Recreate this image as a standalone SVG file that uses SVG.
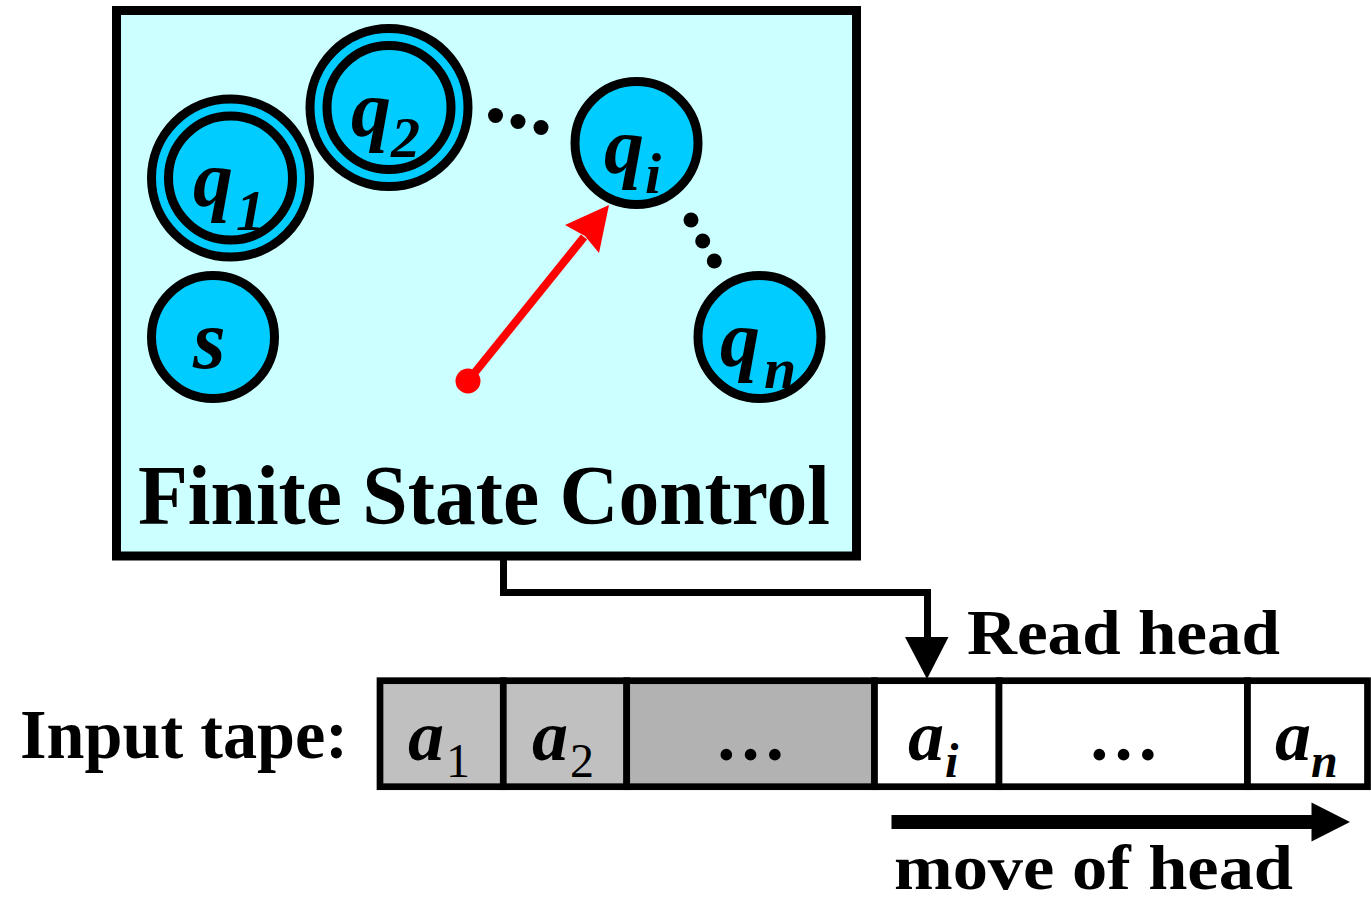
<svg xmlns="http://www.w3.org/2000/svg" width="1371" height="904" viewBox="0 0 1371 904">
<style>
.st{fill:#00CCFF;stroke:#000;stroke-width:9}
.lbl{font-family:"Liberation Serif","Times New Roman",serif;font-weight:bold;font-style:italic;fill:#000}
.sub{font-family:"Liberation Serif","Times New Roman",serif;font-weight:bold;font-style:italic;fill:#000;font-size:58px}
.txt{font-family:"Liberation Serif","Times New Roman",serif;font-weight:bold;fill:#000}
.cell{stroke:#000;stroke-width:6.7}
.ta{font-family:"Liberation Serif","Times New Roman",serif;font-weight:bold;font-style:italic;font-size:72px;fill:#000}
.tsr{font-family:"Liberation Serif","Times New Roman",serif;font-size:48px;fill:#000}
.tsi{font-family:"Liberation Serif","Times New Roman",serif;font-weight:bold;font-style:italic;font-size:48px;fill:#000}
.dot{fill:#000}
</style>
<g id="fsc">
<rect x="116.5" y="10.5" width="740" height="545.5" fill="#CCFFFF" stroke="#000" stroke-width="9"/>
<text class="txt" x="138" y="524" font-size="84" textLength="692" lengthAdjust="spacingAndGlyphs">Finite State Control</text>
</g>
<g id="state-q1">
<circle class="st" cx="230.5" cy="178" r="79"/>
<circle class="st" cx="230.5" cy="178" r="62"/>
<text class="lbl" x="193" y="206" font-size="80">q</text>
<text class="sub" x="236" y="230">1</text>
</g>
<g id="state-q2">
<circle class="st" cx="389" cy="107.5" r="79"/>
<circle class="st" cx="389" cy="107.5" r="62"/>
<text class="lbl" x="351" y="136" font-size="80">q</text>
<text class="sub" x="391" y="157">2</text>
</g>
<g id="state-qi">
<circle class="st" cx="636.5" cy="143" r="61.5"/>
<text class="lbl" x="604" y="173" font-size="80">q</text>
<text class="sub" x="645" y="193">i</text>
</g>
<g id="state-qn">
<circle class="st" cx="759.5" cy="337" r="61.5"/>
<text class="lbl" x="720" y="366" font-size="80">q</text>
<text class="sub" x="764" y="388">n</text>
</g>
<g id="state-s">
<circle class="st" cx="213" cy="337" r="61.5"/>
<text class="lbl" x="193" y="368" font-size="84">s</text>
</g>
<g id="ellipsis-dots">
<circle class="dot" cx="495.5" cy="115.5" r="7.5"/>
<circle class="dot" cx="518" cy="121.5" r="7.5"/>
<circle class="dot" cx="541" cy="127.5" r="7.5"/>
<circle class="dot" cx="691" cy="220" r="7.5"/>
<circle class="dot" cx="702.7" cy="241" r="7.5"/>
<circle class="dot" cx="714.3" cy="261" r="7.5"/>
</g>
<g id="tape">
<rect class="cell" x="380" y="680.7" width="123.3" height="106" fill="#C0C0C0"/>
<rect class="cell" x="503.3" y="680.7" width="123.4" height="106" fill="#C0C0C0"/>
<rect class="cell" x="626.7" y="680.7" width="247.8" height="106" fill="#B2B2B2"/>
<rect class="cell" x="874.5" y="680.7" width="124.5" height="106" fill="#FFFFFF"/>
<rect class="cell" x="999" y="680.7" width="248.5" height="106" fill="#FFFFFF"/>
<rect class="cell" x="1247.5" y="680.7" width="120" height="106" fill="#FFFFFF"/>
<text class="ta" x="408" y="760">a</text><text class="tsr" x="446" y="777">1</text>
<text class="ta" x="532" y="760">a</text><text class="tsr" x="570" y="777">2</text>
<text class="txt" x="750.5" y="760" font-size="72" text-anchor="middle">…</text>
<text class="ta" x="908" y="760">a</text><text class="tsi" x="945" y="777">i</text>
<text class="txt" x="1123.5" y="760" font-size="72" text-anchor="middle">…</text>
<text class="ta" x="1275" y="760">a</text><text class="tsi" x="1311" y="777">n</text>
</g>
<g id="labels">
<text class="txt" x="20" y="758" font-size="69" textLength="328" lengthAdjust="spacingAndGlyphs">Input tape:</text>
<text class="txt" x="967" y="654" font-size="64" textLength="313" lengthAdjust="spacingAndGlyphs">Read head</text>
<text class="txt" x="894" y="889" font-size="64" textLength="399" lengthAdjust="spacingAndGlyphs">move of head</text>
</g>
<g id="connectors">
<path d="M503.5 556 V592.5 H927.5 V640" fill="none" stroke="#000" stroke-width="7"/>
<polygon points="905,637 948.5,637 927,679" fill="#000"/>
<line x1="468" y1="381" x2="584" y2="237" stroke="#FF0000" stroke-width="8"/>
<circle cx="468" cy="381" r="12.5" fill="#FF0000"/>
<polygon points="609,205 565,225 585,236 599,253" fill="#FF0000"/>
<line x1="891.5" y1="822" x2="1315" y2="822" stroke="#000" stroke-width="14"/>
<polygon points="1311.5,802.5 1350,822 1311.5,841.5" fill="#000"/>
</g>
</svg>
